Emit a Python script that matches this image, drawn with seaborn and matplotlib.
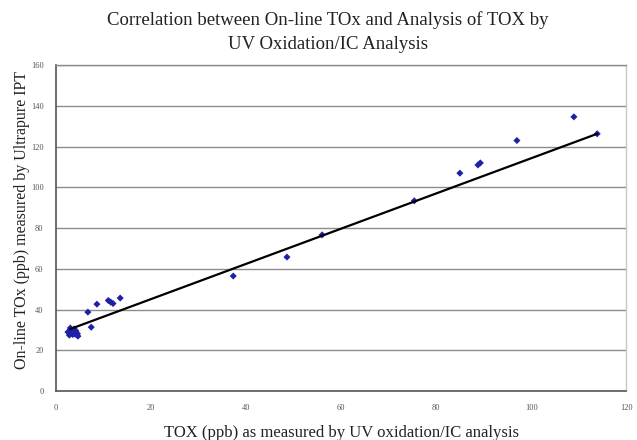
import matplotlib
matplotlib.use("Agg")
import matplotlib.pyplot as plt
import seaborn as sns
import pandas as pd

# Data
tox_uv = [3.0, 3.5, 4.0, 3.2, 4.2, 3.8, 3.5, 4.5, 2.5, 2.8, 4.6, 3.0,
          7.4, 6.7, 8.6, 11.0, 11.5, 12.0, 13.5,
          37.3, 48.6, 56.0, 75.4, 85.0, 88.8, 89.3, 97.0, 109.0, 113.9]
tox_online = [30.0, 29.0, 28.0, 28.5, 29.5, 30.5, 27.8, 28.2, 29.0, 27.5, 27.0, 31.0,
              31.4, 38.8, 42.7, 44.5, 43.7, 43.0, 45.7,
              56.5, 65.8, 76.7, 93.4, 107.0, 111.0, 112.0, 123.0, 134.6, 126.3]

# Trendline end values
trend_x = [3.0, 113.9]
trend_y = [30.5, 126.3]

x_ticks = [0, 20, 40, 60, 80, 100, 120]
y_ticks = [0, 20, 40, 60, 80, 100, 120, 140, 160]

title = "Correlation between On-line TOx and Analysis of TOX by\nUV Oxidation/IC Analysis"
x_label = "TOX (ppb) as measured by UV oxidation/IC analysis"
y_label = "On-line TOx (ppb) measured by Ultrapure IPT"

df = pd.DataFrame({"uv": tox_uv, "online": tox_online})
trend = pd.DataFrame({"uv": trend_x, "online": trend_y})

sns.set_style("white")
plt.rcParams["font.family"] = ["Liberation Serif", "DejaVu Serif"]

fig = plt.figure(figsize=(6.37, 4.40), dpi=100)
ax = fig.add_axes([0.088, 0.111, 0.895, 0.741])

sns.scatterplot(data=df, x="uv", y="online", ax=ax, marker="D", s=13,
                color="#1f1fa8", edgecolor="none", zorder=3)
sns.lineplot(data=trend, x="uv", y="online", ax=ax, color="black",
             linewidth=1.6, zorder=4)

ax.set_xlim(0, 120)
ax.set_ylim(0, 160)
ax.set_xticks(x_ticks)
ax.set_yticks(y_ticks)
ax.set_xticklabels([str(t) for t in x_ticks], fontsize=6, color="#555555")
ax.set_yticklabels([str(t) for t in y_ticks], fontsize=6, color="#555555")
ax.tick_params(axis="x", direction="out", length=3, width=0.8, color="#555555", pad=6)
ax.tick_params(axis="y", direction="out", length=3, width=0.8, color="#555555", pad=6)

ax.yaxis.grid(True, color="#8c8c8c", linewidth=1.0)
ax.xaxis.grid(False)
ax.set_axisbelow(True)

for side in ["left", "bottom"]:
    ax.spines[side].set_color("#555555")
    ax.spines[side].set_linewidth(1.2)
ax.spines["right"].set_color("#c8c8c8")
ax.spines["right"].set_linewidth(1.0)
ax.spines["top"].set_color("#8c8c8c")
ax.spines["top"].set_linewidth(1.0)

ax.set_xlabel(x_label, fontsize=12, color="#222222")
ax.set_ylabel(y_label, fontsize=11.5, color="#222222")
ax.xaxis.set_label_coords(0.5, -0.105)
ax.yaxis.set_label_coords(-0.045, 0.525)

fig.text(0.515, 0.975, title, ha="center", va="top", fontsize=13.5,
         color="#222222", linespacing=1.55)

fig.savefig("out.png", dpi=100)
